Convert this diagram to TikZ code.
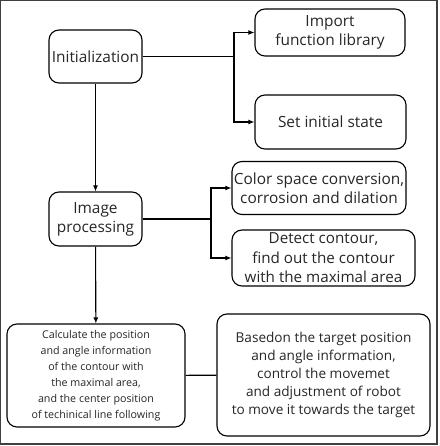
\documentclass[tikz,border=0pt]{standalone}
\usepackage{fontspec}
\setmainfont{Open Sans}
\usetikzlibrary{arrows.meta}
\begin{document}
\begin{tikzpicture}[x=1pt, y=-1pt, line width=1.1pt,
  box/.style={draw, rounded corners=10pt, align=center, inner sep=0pt, text=black!85,
    font=\fontsize{15.4}{19}\selectfont},
  arr/.style={-{Latex[length=6pt,width=5pt]}}]
% Set the canvas and the outer frame
\useasboundingbox (0,0) rectangle (439,446);
\draw[black!75] (0.5,0.5) rectangle (437,444);

% Draw the boxes
\node[box, minimum width=93, minimum height=53] (init) at (95.5,56.5) {Initialization};
\node[box, minimum width=150, minimum height=47] (lib) at (330,32.5) {Import\\function library};
\node[box, minimum width=151, minimum height=54] (state) at (330.5,122) {Set initial state};
\node[box, minimum width=93, minimum height=54] (img) at (95.5,219) {Image\\processing};
\node[box, minimum width=174, minimum height=53] (color) at (319,188) {Color space conversion,\\corrosion and dilation};
\node[box, minimum width=183, minimum height=56, font=\fontsize{15.2}{19.5}\selectfont] (contour) at (323.5,258) {Detect contour,\\find out the contour\\with the maximal area};
\node[box, minimum width=178, minimum height=103, font=\fontsize{10.7}{16}\selectfont] (calc) at (96,375.5) {Calculate the position\\and angle information\\of the contour with\\the maximal area,\\and the center position\\of techinical line following};
\node[box, minimum width=213, minimum height=122, font=\fontsize{13.6}{17.8}\selectfont] (based) at (323.5,375) {Basedon the target position\\and angle information,\\control the movemet\\and adjustment of robot\\to move it towards the target};

% Branch points
\coordinate (b1) at (234,56.5);
\coordinate (b2) at (211,219);

% Draw the connectors
\draw (init.east) -- (b1);
\draw[arr] (b1) |- (lib.west);
\draw[arr] (b1) |- (state.west);
\draw[arr] (init) -- (img);
\draw (img.east) -- (b2);
\draw[arr] (b2) |- (color.west);
\draw[arr] (b2) |- (contour.west);
\draw[arr] (img) -- (calc);
\draw (calc) -- (based);
\end{tikzpicture}
\end{document}
